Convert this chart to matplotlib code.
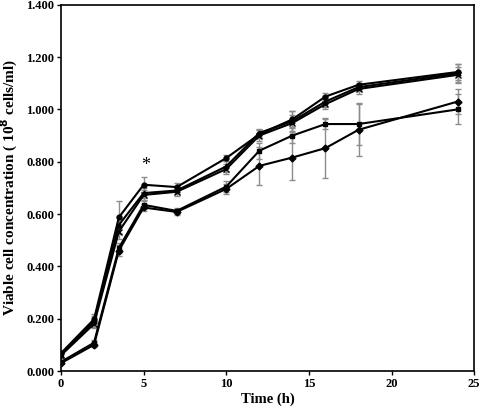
import matplotlib
matplotlib.use("Agg")
import matplotlib.pyplot as plt
from matplotlib.ticker import FormatStrFormatter

# sampling times (h)
time_h = [0, 2, 3.5, 5, 7, 10, 12, 14, 16, 18, 24]

# viable cell concentration (10^8 cells/ml) for each culture
s1_vals = [0.068, 0.198, 0.587, 0.712, 0.703, 0.814, 0.905, 0.962, 1.049, 1.094, 1.143]
s1_err = [0.008, 0.020, 0.064, 0.028, 0.015, 0.012, 0.015, 0.030, 0.015, 0.015, 0.030]
s2_vals = [0.062, 0.190, 0.558, 0.680, 0.690, 0.782, 0.910, 0.955, 1.030, 1.085, 1.138]
s2_err = [0.008, 0.020, 0.030, 0.020, 0.015, 0.020, 0.015, 0.040, 0.020, 0.015, 0.035]
s3_vals = [0.060, 0.180, 0.533, 0.673, 0.685, 0.772, 0.900, 0.948, 1.020, 1.078, 1.132]
s3_err = [0.008, 0.015, 0.030, 0.020, 0.015, 0.020, 0.020, 0.030, 0.020, 0.020, 0.030]
s4_vals = [0.035, 0.108, 0.470, 0.635, 0.612, 0.705, 0.842, 0.900, 0.944, 0.944, 1.000]
s4_err = [0.005, 0.010, 0.020, 0.015, 0.010, 0.020, 0.030, 0.030, 0.020, 0.080, 0.057]
s5_vals = [0.030, 0.100, 0.460, 0.625, 0.608, 0.696, 0.784, 0.816, 0.852, 0.922, 1.030]
s5_err = [0.005, 0.010, 0.020, 0.015, 0.010, 0.020, 0.074, 0.085, 0.115, 0.100, 0.047]

series = [
    (s1_vals, s1_err, "o"),
    (s2_vals, s2_err, "^"),
    (s3_vals, s3_err, "x"),
    (s4_vals, s4_err, "s"),
    (s5_vals, s5_err, "D"),
]

plt.rcParams["font.family"] = ["Liberation Serif", "DejaVu Serif"]
plt.rcParams["font.weight"] = "bold"

fig = plt.figure(figsize=(4.8, 4.12), dpi=100)
ax = fig.add_axes([0.127, 0.0995, 0.861, 0.889])

for vals, err, mk in series:
    ax.errorbar(time_h, vals, yerr=err, color="black", ecolor="#8c8c8c",
                elinewidth=1.0, capsize=2, capthick=0.8, lw=1.5,
                marker=mk, ms=3.5 if mk != "x" else 4, mew=1.0)

# significance mark
ax.text(5.15, 0.785, "*", ha="center", va="center", fontsize=13, fontweight="normal")

ax.set_xlim(0, 25)
ax.set_ylim(0, 1.4)
ax.set_xticks(range(0, 26, 5))
ax.set_yticks([0, 0.2, 0.4, 0.6, 0.8, 1.0, 1.2, 1.4])
ax.yaxis.set_major_formatter(FormatStrFormatter("%.3f"))
ax.tick_params(direction="out", length=3, width=1, labelsize=9, pad=2)
for lab in ax.get_xticklabels() + ax.get_yticklabels():
    lab.set_fontweight("bold")
for sp in ax.spines.values():
    sp.set_linewidth(1.2)

ax.set_xlabel("Time (h)", fontsize=10.5, fontweight="bold", labelpad=2)
ax.set_ylabel("Viable cell concentration ( 10$^{\\mathbf{8}}$ cells/ml)",
              fontsize=11, fontweight="bold", labelpad=4)

fig.savefig("out.png", dpi=100)
